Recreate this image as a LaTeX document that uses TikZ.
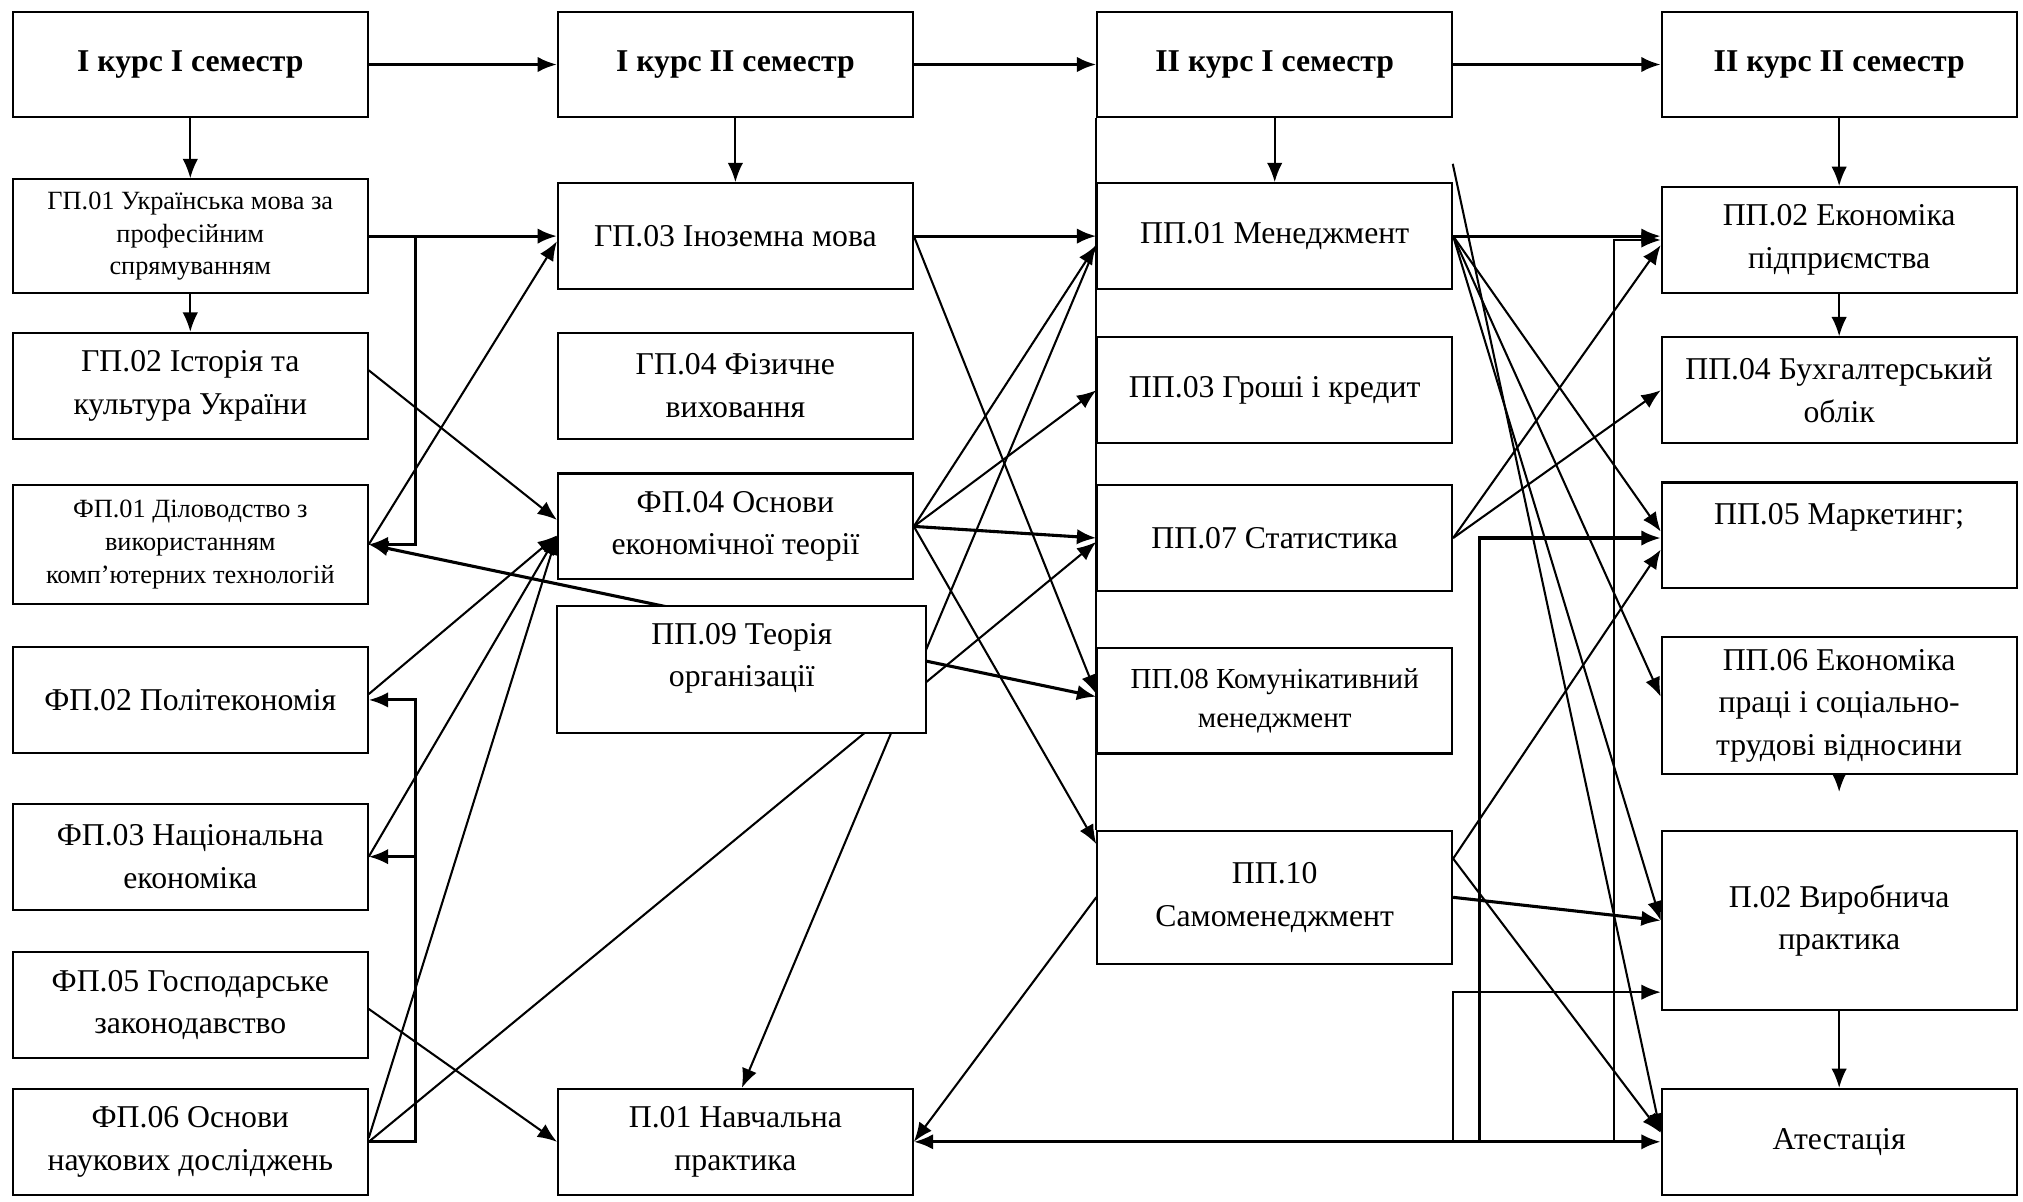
\documentclass[tikz,border=0pt]{standalone}
\usepackage{fontspec}
\setmainfont{Liberation Serif}
\usepackage{tikz}
\usetikzlibrary{arrows.meta}
\usetikzlibrary{backgrounds}

\newcommand{\fntbig}{\fontsize{24.6}{33}\selectfont}
\newcommand{\fntmid}{\fontsize{22.5}{30}\selectfont}
\newcommand{\fntsmall}{\fontsize{20.4}{25.5}\selectfont}

\begin{document}
\begin{tikzpicture}[
    % 座標以點為單位，y 軸向下
    x=1pt, y=-1pt,
    % --- 定義節點樣式 ---
    % 方框節點樣式
    box/.style={
        rectangle,
        draw=black,
        line width=1.6pt,
        fill=white,
        align=center,
        inner sep=0pt,
        minimum width=275pt,
        minimum height=82pt,
        font=\fntbig
    },
    % 學期標題樣式
    head/.style={
        box,
        font=\fntbig\bfseries
    },
    % --- 定義線條樣式 ---
    arr/.style={-{Latex[length=15pt,width=12pt]}, line width=1.6pt},
    tharr/.style={arr, line width=2.4pt},
    dblarr/.style={{Latex[length=15pt,width=12pt]}-{Latex[length=15pt,width=12pt]}, line width=2.4pt},
    bline/.style={line width=1.6pt}
]

\useasboundingbox (0,0) rectangle (1568,931);

% --- 第一列 ---
\node[head] (h11) at (147.5,50) {І курс І семестр};
\node[box, minimum height=88pt, font=\fntsmall] (gp01) at (147.5,183) {ГП.01 Українська мова за\\професійним\\спрямуванням};
\node[box] (gp02) at (147.5,299) {ГП.02 Історія та\\культура України};
\node[box, minimum height=92pt, font=\fntsmall] (fp01) at (147.5,422) {ФП.01 Діловодство з\\використанням\\комп’ютерних технологій};
\node[box] (fp02) at (147.5,542.5) {ФП.02 Політекономія};
\node[box] (fp03) at (147.5,664) {ФП.03 Національна\\економіка};
\node[box] (fp05) at (147.5,779) {ФП.05 Господарське\\законодавство};
\node[box] (fp06) at (147.5,885) {ФП.06 Основи\\наукових досліджень};

% --- 第二列 ---
\node[head] (h12) at (570,50) {І курс ІІ семестр};
\node[box] (gp03) at (570,183) {ГП.03 Іноземна мова};
\node[box] (gp04) at (570,299) {ГП.04 Фізичне\\виховання};
\node[box] (fp04) at (570,408) {ФП.04 Основи\\економічної теорії};
\node[box, minimum width=286pt, minimum height=98pt] (pp09) at (575,519) {ПП.09 Теорія\\організації\\[-10pt]\mbox{}};
\node[box] (p01) at (570,885) {П.01 Навчальна\\практика};

% --- 第三列 ---
\node[head] (h21) at (988,50) {ІІ курс І семестр};
\node[box] (pp01) at (988,183) {ПП.01 Менеджмент};
\node[box] (pp03) at (988,302.5) {ПП.03 Гроші і кредит};
\node[box] (pp07) at (988,417) {ПП.07 Статистика};
\node[box, font=\fntmid] (pp08) at (988,543) {ПП.08 Комунікативний\\менеджмент};
\node[box, minimum height=103pt] (pp10) at (988,695.5) {ПП.10\\Самоменеджмент};

% --- 第四列 ---
\node[head] (h22) at (1425.5,50) {ІІ курс ІІ семестр};
\node[box] (pp02) at (1425.5,186) {ПП.02 Економіка\\підприємства};
\node[box] (pp04) at (1425.5,302.5) {ПП.04 Бухгалтерський\\облік};
\node[box] (pp05) at (1425.5,415) {ПП.05 Маркетинг;\\\mbox{}};
\node[box, minimum height=106pt] (pp06) at (1425.5,547) {ПП.06 Економіка\\праці і соціально-\\трудові відносини};
\node[box, minimum height=139pt] (p02) at (1425.5,713.5) {П.02 Виробнича\\практика};
\node[box] (att) at (1425.5,885) {Атестація};

% 匯流線的轉折點
\coordinate (lbus) at (322,0);
\coordinate (loose) at (1126,127);
\coordinate (rbusA) at (1126,885);
\coordinate (rbusB) at (1147,885);
\coordinate (rbusC) at (1251,885);

\begin{scope}[on background layer]
% 學期之間
\draw[tharr] (h11) -- (h12);
\draw[tharr] (h12) -- (h21);
\draw[tharr] (h21) -- (h22);
\draw[arr] (h11) -- (gp01);
\draw[arr] (gp01) -- (gp02);
\draw[arr] (h12) -- (gp03);
\draw[arr] (h21) -- (pp01);
\draw[arr] (h22) -- (pp02);
\draw[arr] (pp02) -- (pp04);
\draw[arr] (pp06.south) -- ++(0,13);
\draw[arr] (p02) -- (att);
\draw[bline] (h21.south west) -- (pp10.north west);

% 第一列 -> 第二列
\draw[tharr] (gp01.east) -- (gp01.east -| gp03.west);
\draw[tharr] (gp01.east) -- (gp01.east -| lbus) |- (fp01.east);
\draw[tharr] (fp06.east) -- (fp06.east -| lbus) |- (fp02.east);
\draw[tharr] (fp06.east -| lbus) |- (fp03.east);
\draw[arr] ([yshift=12pt]gp02.east) -- ([yshift=5pt]fp04.west);
\draw[arr] (fp01.east) -- ([yshift=-4pt]gp03.west);
\draw[arr] ([yshift=4.5pt]fp02.east) -- ([yshift=-7pt]fp04.west);
\draw[arr] (fp03.east) -- ([yshift=-7pt]fp04.west);
\draw[arr] ([yshift=3pt]fp06.east) -- ([yshift=-7pt]fp04.west);
\draw[arr] ([yshift=-3pt]fp05.east) -- (p01.west);
\draw[dblarr] (fp01.east) -- ([yshift=3pt]pp08.west);
\draw[arr] (fp06.east) -- ([yshift=-3pt]pp07.west);

% 第二列 -> 第三列
\draw[tharr] (gp03.east) -- (gp03.east -| pp01.west);
\draw[arr] (gp03.east) -- ([yshift=5pt]pp08.west);
\draw[arr] (fp04.east) -- ([yshift=-7pt]pp01.west);
\draw[arr] (fp04.east) -- (pp03.west);
\draw[tharr] (fp04.east) -- (pp07.west);
\draw[arr] (fp04.east) -- ([yshift=-11pt]pp10.north west);
\draw[arr] ([yshift=-7pt]pp01.west) -- ([xshift=5pt]p01.north);
\draw[arr] (pp10.west) -- (p01.east);

% 第三列 -> 第四列
\draw[tharr] (pp01.east) -- (pp01.east -| pp02.west);
\draw[arr] (pp01.east) -- ([yshift=3pt]pp05.west);
\draw[arr] (pp01.east) -- ([yshift=7pt]pp06.west);
\draw[arr] (pp01.east) -- (p02.west);
\draw[arr] (loose) -- ([yshift=7pt]att.west);
\draw[arr] (pp07.east) -- ([yshift=-4pt]pp02.west);
\draw[arr] (pp07.east) -- (pp04.west);
\draw[arr] ([yshift=30pt]pp10.east) -- ([yshift=-11pt]pp05.west);
\draw[arr] ([yshift=30pt]pp10.east) -- ([yshift=7pt]att.west);
\draw[tharr] (pp10.east) -- (p02.west);

% 下方匯流線
\draw[dblarr] (p01.east) -- (att.west);
\draw[arr] (rbusA) |- ([yshift=-55.5pt]p02.west);
\draw[tharr] (rbusB) |- ([yshift=-2pt]pp05.west);
\draw[arr] (rbusC) |- (pp02.west);
\end{scope}

\end{tikzpicture}
\end{document}
